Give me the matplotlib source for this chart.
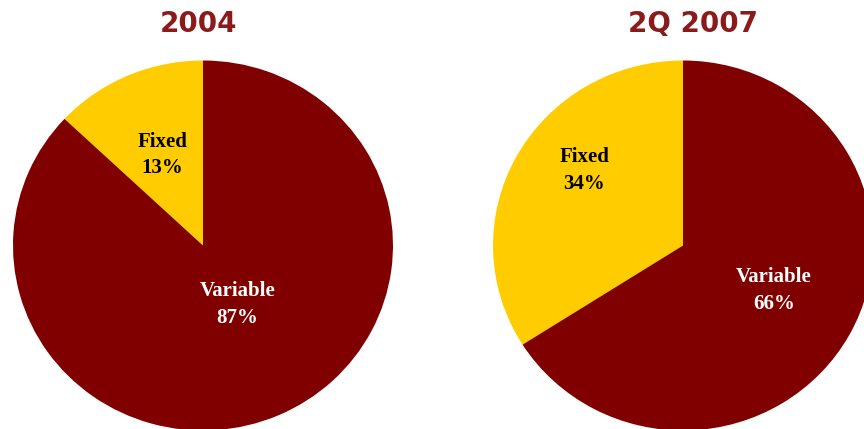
import matplotlib
matplotlib.use("Agg")
import matplotlib.pyplot as plt

# Share of fixed vs variable, two periods
periods = ["2004", "2Q 2007"]
fixed_pct = [13, 34]
variable_pct = [87, 66]
segment_names = ["Fixed", "Variable"]

YELLOW = "#FFCC00"
MAROON = "#800000"
TITLE_COLOR = "#8B1A1A"

W, H = 864, 429
fig = plt.figure(figsize=(W / 100, H / 100), dpi=100)
fig.patch.set_facecolor("white")

# pie boxes in pixel units: (centre x, centre y from top, rx, ry)
boxes = [(203, 245.5, 190, 185), (683, 245.5, 190, 185)]
title_x = [198.5, 693.5]
# label block centres in axes data units (Fixed, Variable)
label_pos = [((-0.215, 0.489), (0.18, -0.317)),
             ((-0.52, 0.407), (0.479, -0.244))]

for i, (cx, cy, rx, ry) in enumerate(boxes):
    ax = fig.add_axes([(cx - rx) / W, (H - cy - ry) / H, 2 * rx / W, 2 * ry / H])
    vals = [fixed_pct[i], variable_pct[i]]
    ax.pie(vals, colors=[YELLOW, MAROON], startangle=90, counterclock=True,
           radius=1, wedgeprops=dict(linewidth=0, antialiased=True))
    ax.set_aspect("auto")
    ax.set_xlim(-1, 1)
    ax.set_ylim(-1, 1)
    ax.axis("off")

    (fx, fy), (vx, vy) = label_pos[i]
    ax.text(fx, fy, f"{segment_names[0]}\n{fixed_pct[i]}%", ha="center", va="center",
            multialignment="center", fontsize=15, fontweight="bold",
            family="Liberation Serif", color="black", linespacing=1.45)
    ax.text(vx, vy, f"{segment_names[1]}\n{variable_pct[i]}%", ha="center", va="center",
            multialignment="center", fontsize=15, fontweight="bold",
            family="Liberation Serif", color="white", linespacing=1.45)

    fig.text(title_x[i] / W, 1 - 23.5 / H, periods[i], ha="center", va="center",
             fontsize=20, fontweight="bold", family="DejaVu Sans", color=TITLE_COLOR)

fig.savefig("out.png", dpi=100, facecolor="white")
